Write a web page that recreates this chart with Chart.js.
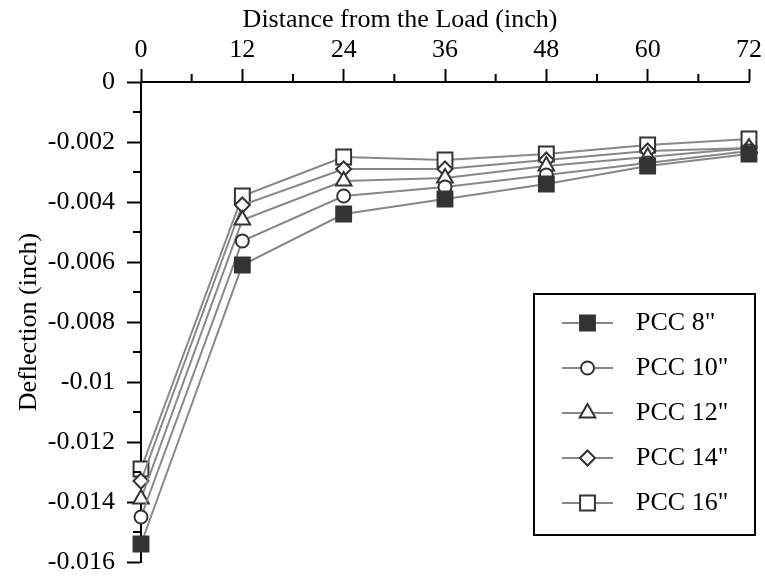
<!DOCTYPE html>
<html>
<head>
<meta charset="utf-8">
<script src="https://cdn.jsdelivr.net/npm/chart.js@4.4.1/dist/chart.umd.min.js"></script>
<style>
  html, body { margin: 0; padding: 0; background: #fff; }
  #wrap { width: 765px; height: 578px; position: relative; }
</style>
</head>
<body>
<div id="wrap"><canvas id="chart"></canvas></div>
<script>
// Deflection vs. distance from the load, one series per slab thickness
const DISTANCES = [0, 12, 24, 36, 48, 60, 72];
const X_TICKS = [0, 12, 24, 36, 48, 60, 72];
const Y_TICKS = [0, -0.002, -0.004, -0.006, -0.008, -0.01, -0.012, -0.014, -0.016];

const SERIES_LABELS = ['PCC 8"', 'PCC 10"', 'PCC 12"', 'PCC 14"', 'PCC 16"'];
const PCC_8  = [-0.0154, -0.0061, -0.0044, -0.0039, -0.0034, -0.0028, -0.0024];
const PCC_10 = [-0.0145, -0.0053, -0.0038, -0.0035, -0.0031, -0.0027, -0.0023];
const PCC_12 = [-0.0139, -0.0046, -0.0033, -0.0032, -0.0028, -0.0025, -0.0022];
const PCC_14 = [-0.0133, -0.0041, -0.0029, -0.0029, -0.0026, -0.0023, -0.0022];
const PCC_16 = [-0.0129, -0.0038, -0.0025, -0.0026, -0.0024, -0.0021, -0.0019];

const SERIES_VALUES = [PCC_8, PCC_10, PCC_12, PCC_14, PCC_16];
const MARKERS = [
  { style: 'rect',     radius: 10.5, fill: '#333333' },
  { style: 'circle',   radius: 6.5,  fill: '#ffffff' },
  { style: 'triangle', radius: 9,    fill: '#ffffff' },
  { style: 'rectRot',  radius: 7.5,  fill: '#ffffff' },
  { style: 'rect',     radius: 10.5, fill: '#ffffff' }
];

const FONT = { family: "'Liberation Serif', 'Times New Roman', serif", size: 26 };
const LINE_GRAY = '#878787';
const INK = '#333333';
const X_TITLE = 'Distance from the Load (inch)';

const PLOT_LEFT = 141, PLOT_TOP = 82, PLOT_BOTTOM_GAP = 16;

// minor ticks halfway between the labelled ones, plus the top title
const axisExtras = {
  id: 'axisExtras',
  afterDraw(chart) {
    const { ctx, scales: { x, y }, chartArea } = chart;
    ctx.save();
    ctx.strokeStyle = '#000';
    ctx.lineWidth = 2;
    ctx.beginPath();
    for (let i = 0; i < X_TICKS.length - 1; i++) {
      const px = x.getPixelForValue((X_TICKS[i] + X_TICKS[i + 1]) / 2);
      ctx.moveTo(px, chartArea.top);
      ctx.lineTo(px, chartArea.top - 8);
    }
    for (let i = 0; i < Y_TICKS.length - 1; i++) {
      const py = y.getPixelForValue((Y_TICKS[i] + Y_TICKS[i + 1]) / 2);
      ctx.moveTo(chartArea.left, py);
      ctx.lineTo(chartArea.left - 8, py);
    }
    ctx.stroke();
    ctx.fillStyle = '#000';
    ctx.font = FONT.size + 'px ' + FONT.family;
    ctx.textAlign = 'center';
    ctx.textBaseline = 'middle';
    ctx.fillText(X_TITLE, 400, 20);
    ctx.restore();
  }
};

// boxed legend sitting inside the plot, lower right
const boxLegend = {
  id: 'boxLegend',
  afterDraw(chart, args, opts) {
    const ctx = chart.ctx;
    ctx.save();
    ctx.fillStyle = '#fff';
    ctx.fillRect(opts.x, opts.y, opts.w, opts.h);
    ctx.strokeStyle = '#000';
    ctx.lineWidth = 2;
    ctx.strokeRect(opts.x, opts.y, opts.w, opts.h);
    chart.data.datasets.forEach((ds, i) => {
      const cy = opts.y + opts.first + i * opts.step;
      ctx.strokeStyle = ds.borderColor;
      ctx.lineWidth = ds.borderWidth;
      ctx.beginPath();
      ctx.moveTo(opts.lineX0, cy);
      ctx.lineTo(opts.lineX1, cy);
      ctx.stroke();
      const mx = (opts.lineX0 + opts.lineX1) / 2;
      ctx.fillStyle = ds.pointBackgroundColor;
      ctx.strokeStyle = ds.pointBorderColor;
      ctx.lineWidth = ds.pointBorderWidth;
      Chart.helpers.drawPoint(ctx, { pointStyle: ds.pointStyle, radius: ds.pointRadius, borderWidth: ds.pointBorderWidth, rotation: 0 }, mx, cy);
      ctx.fillStyle = '#000';
      ctx.font = FONT.size + 'px ' + FONT.family;
      ctx.textBaseline = 'middle';
      ctx.textAlign = 'left';
      ctx.fillText(ds.label, opts.textX, cy);
    });
    ctx.restore();
  }
};

const datasets = SERIES_LABELS.map((label, i) => ({
  label,
  data: DISTANCES.map((d, j) => ({ x: d, y: SERIES_VALUES[i][j] })),
  borderColor: LINE_GRAY,
  borderWidth: 2,
  pointStyle: MARKERS[i].style,
  pointRadius: MARKERS[i].radius,
  pointBackgroundColor: MARKERS[i].fill,
  pointBorderColor: INK,
  pointBorderWidth: 2,
  tension: 0,
  clip: false
}));

new Chart(document.getElementById('chart'), {
  type: 'line',
  data: { datasets },
  plugins: [axisExtras, boxLegend],
  options: {
    responsive: true,
    maintainAspectRatio: false,
    animation: false,
    layout: { padding: { top: 0, left: 0, right: 13, bottom: PLOT_BOTTOM_GAP } },
    plugins: {
      legend: { display: false },
      tooltip: { enabled: false },
      boxLegend: { x: 534, y: 294, w: 221, h: 241, first: 29, step: 45, lineX0: 562, lineX1: 613, textX: 636 }
    },
    scales: {
      x: {
        type: 'linear',
        position: 'top',
        min: 0, max: 72,
        afterBuildTicks: s => { s.ticks = X_TICKS.map(v => ({ value: v })); },
        afterFit: s => { s.height = PLOT_TOP; },
        ticks: { font: FONT, color: '#000', padding: 3, maxRotation: 0 },
        grid: { display: true, drawOnChartArea: false, drawTicks: true, tickLength: 13, tickColor: '#000', tickWidth: 2 },
        border: { display: true, color: '#000', width: 2 },
        title: { display: false }
      },
      y: {
        type: 'linear',
        min: -0.016, max: 0,
        afterBuildTicks: s => { s.ticks = Y_TICKS.map(v => ({ value: v })); },
        afterFit: s => { s.width = PLOT_LEFT; s.paddingTop = 0; s.paddingBottom = PLOT_BOTTOM_GAP; },
        ticks: { font: FONT, color: '#000', padding: 12, callback: v => String(+v.toFixed(3)) },
        grid: { display: true, drawOnChartArea: false, drawTicks: true, tickLength: 14, tickColor: '#000', tickWidth: 2 },
        border: { display: true, color: '#000', width: 2 },
        title: { display: true, text: 'Deflection (inch)', font: FONT, color: '#000', padding: { top: 14, bottom: 0 } }
      }
    }
  }
});
</script>
</body>
</html>
